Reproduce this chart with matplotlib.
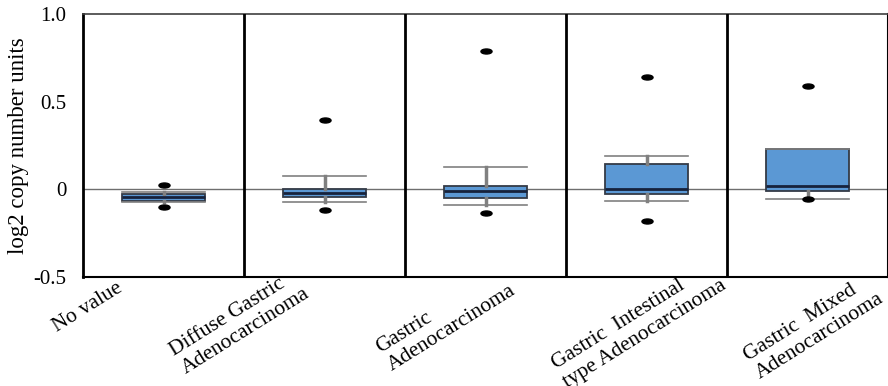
import matplotlib
matplotlib.use('Agg')
import matplotlib.pyplot as plt
from matplotlib.markers import MarkerStyle
from matplotlib.transforms import Affine2D, ScaledTranslation

categories = ['No value', 'Diffuse Gastric\nAdenocarcinoma', 'Gastric\nAdenocarcinoma',
              'Gastric  Intestinal\ntype Adenocarcinoma', 'Gastric  Mixed\nAdenocarcinoma']
whislo = [-0.075, -0.073, -0.092, -0.067, -0.053]
q1 = [-0.067, -0.044, -0.050, -0.025, -0.011]
med = [-0.045, -0.021, -0.011, 0.004, 0.017]
q3 = [-0.025, 0.004, 0.019, 0.144, 0.230]
whishi = [-0.015, 0.075, 0.128, 0.190, 0.230]
fliers = [[0.023, -0.100], [0.397, -0.120], [0.789, -0.136], [0.638, -0.178], [0.592, -0.053]]
yticks = [-0.5, 0, 0.5, 1.0]
yticklabels = ['-0.5', '0', '0.5', '1.0']

# label nudges in pixels (dx right, dy down)
label_dx = [-48, -33, 12, 62, 58]
label_dy = [-3, -15, -18, -24, -10]

plt.rcParams['font.family'] = ['Liberation Serif', 'DejaVu Serif']
plt.rcParams['font.size'] = 15

fig = plt.figure(figsize=(8.88, 3.86), dpi=100)
ax = fig.add_axes([83 / 888, 1 - 277 / 386, 805 / 888, 263 / 386])

stats = []
for i in range(len(categories)):
    stats.append({'whislo': whislo[i], 'q1': q1[i], 'med': med[i], 'q3': q3[i],
                  'whishi': whishi[i], 'fliers': fliers[i]})

positions = list(range(1, len(categories) + 1))
ell = MarkerStyle('o', transform=Affine2D().scale(1.0, 0.45))

ax.axhline(0, color='#6e6e6e', lw=1, zorder=1)
ax.bxp(stats, positions=positions, widths=0.52, capwidths=0.52, patch_artist=True,
       boxprops=dict(facecolor='#5b98d4', edgecolor='#343a46', lw=1.3),
       medianprops=dict(color='#16223c', lw=2),
       whiskerprops=dict(color='#808080', lw=2.5),
       capprops=dict(color='#808080', lw=1.2),
       flierprops=dict(marker=ell, markersize=8, markerfacecolor='black',
                       markeredgecolor='black'))

for p in positions[:-1]:
    ax.axvline(p + 0.5, color='black', lw=2, zorder=3)

ax.set_xlim(0.5, len(categories) + 0.5)
ax.set_ylim(-0.5, 1.0)
ax.set_yticks(yticks, yticklabels)
ax.set_yticks([0.5], minor=True)
ax.tick_params(axis='y', which='major', length=0, pad=12)
ax.tick_params(axis='y', which='minor', direction='in', length=16, width=1.2, color='#202020')
ax.set_ylabel('log2 copy number units', fontsize=16.5, labelpad=3)

ax.set_xticks(positions)
ax.set_xticklabels(categories, rotation=32, ha='right', va='top',
                   rotation_mode='anchor', multialignment='left', fontsize=15.5)
ax.tick_params(axis='x', length=0, pad=3)
for lab, dx, dy in zip(ax.get_xticklabels(), label_dx, label_dy):
    lab.set_transform(lab.get_transform() + ScaledTranslation(dx / 100, -dy / 100, fig.dpi_scale_trans))

ax.spines['left'].set_linewidth(2)
ax.spines['bottom'].set_linewidth(1.5)
ax.spines['top'].set_linewidth(1.2)
ax.spines['top'].set_color('#404040')
ax.spines['right'].set_linewidth(1.5)

plt.savefig('out.png', dpi=100)
plt.close()
